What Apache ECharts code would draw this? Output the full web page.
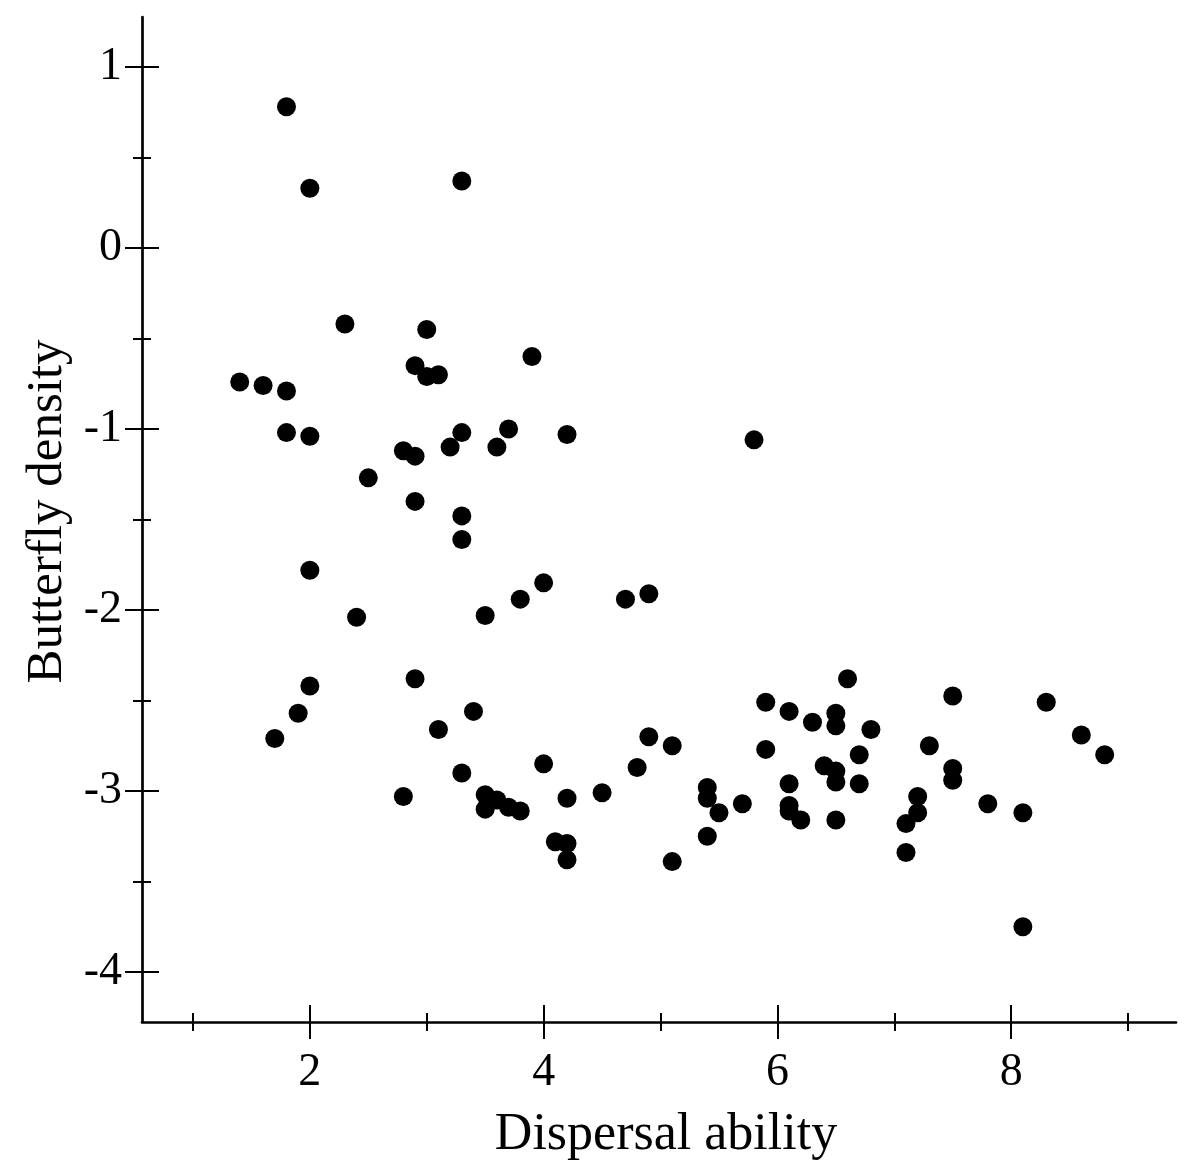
<!DOCTYPE html>
<html><head><meta charset="utf-8">
<script src="https://cdn.jsdelivr.net/npm/echarts@6/dist/echarts.min.js"></script>
<style>html,body{margin:0;padding:0;background:#fff}#c{width:1200px;height:1173px}</style>
</head><body><div id="c"></div>
<script>
const dispersal = [1.8,2.0,3.3,2.3,3.0,3.9,2.9,3.0,3.1,1.4,1.6,1.8,1.8,2.0,3.3,3.7,4.2,2.8,2.9,3.2,3.6,2.5,2.9,3.3,3.3,2.0,4.0,3.8,2.4,3.5,4.7,4.9,5.8,2.0,2.9,1.9,1.7,3.4,3.1,3.3,4.0,2.8,3.5,3.6,3.5,3.7,3.8,4.2,4.5,4.1,4.2,4.2,4.8,4.9,5.1,5.1,5.4,5.4,5.5,5.7,5.4,5.9,5.9,6.1,6.1,6.1,6.1,6.2,6.3,6.4,6.5,6.5,6.5,6.5,6.5,6.6,6.7,6.7,6.8,7.1,7.1,7.2,7.2,7.3,7.5,7.5,7.5,7.8,8.1,8.1,8.3,8.6,8.8];
const density = [0.78,0.33,0.37,-0.42,-0.45,-0.60,-0.65,-0.71,-0.70,-0.74,-0.76,-0.79,-1.02,-1.04,-1.02,-1.00,-1.03,-1.12,-1.15,-1.10,-1.10,-1.27,-1.40,-1.48,-1.61,-1.78,-1.85,-1.94,-2.04,-2.03,-1.94,-1.91,-1.06,-2.42,-2.38,-2.57,-2.71,-2.56,-2.66,-2.90,-2.85,-3.03,-3.02,-3.05,-3.10,-3.09,-3.11,-3.04,-3.01,-3.28,-3.29,-3.38,-2.87,-2.70,-2.75,-3.39,-2.98,-3.04,-3.12,-3.07,-3.25,-2.51,-2.77,-2.56,-2.96,-3.08,-3.11,-3.16,-2.62,-2.86,-2.57,-2.64,-2.89,-2.95,-3.16,-2.38,-2.80,-2.96,-2.66,-3.18,-3.34,-3.03,-3.12,-2.75,-2.475,-2.875,-2.94,-3.07,-3.12,-3.75,-2.51,-2.69,-2.80];
const xLabelTicks = [2,4,6,8];
const xMajorTicks = [2,4,6,8];
const xMinorTicks = [1,3,5,7,9];
const yLabelTicks = [-4,-3,-2,-1,0,1];
const yMajorTicks = [-4,-3,-2,-1,0,1];
const yMinorTicks = [-3.5,-2.5,-1.5,-0.5,0.5];
const xTitle = 'Dispersal ability';
const yTitle = 'Butterfly density';

const FONT = '"Liberation Serif","Times New Roman",serif';
const X_MIN = 0.564, X_MAX = 9.41, Y_MIN = -4.276, Y_MAX = 1.276;

function tickAxis(base, offset, len, values) {
  return Object.assign({}, base, {
    offset: offset,
    axisLine: {show: false, onZero: false},
    axisTick: {show: true, length: len, customValues: values, lineStyle: {color: '#000', width: 2}},
    axisLabel: {show: false},
    splitLine: {show: false}
  });
}
const xBase = {type: 'value', min: X_MIN, max: X_MAX, position: 'bottom'};
const yBase = {type: 'value', min: Y_MIN, max: Y_MAX, position: 'left'};

const chart = echarts.init(document.getElementById('c'), null, {renderer: 'canvas'});
chart.setOption({
  animation: false,
  backgroundColor: '#fff',
  grid: {left: 142, right: 24, top: 17, bottom: 151, containLabel: false},
  xAxis: [
    Object.assign({}, xBase, {
      axisLine: {show: true, onZero: false, lineStyle: {color: '#000', width: 2.7}},
      axisTick: {show: false},
      splitLine: {show: false},
      axisLabel: {customValues: xLabelTicks, fontSize: 46, fontFamily: FONT, color: '#000', margin: 28},
      name: xTitle, nameLocation: 'middle', nameGap: 87,
      nameTextStyle: {fontSize: 52, fontFamily: FONT, color: '#000', padding: [0, 0, 0, 14]}
    }),
    tickAxis(xBase, -17, 34, xMajorTicks),
    tickAxis(xBase, -9, 18, xMinorTicks)
  ],
  yAxis: [
    Object.assign({}, yBase, {
      axisLine: {show: true, onZero: false, lineStyle: {color: '#000', width: 2.7}},
      axisTick: {show: false},
      splitLine: {show: false},
      axisLabel: {customValues: yLabelTicks, fontSize: 46, fontFamily: FONT, color: '#000', margin: 20},
      name: yTitle, nameLocation: 'middle', nameGap: 62, nameRotate: 90,
      nameTextStyle: {fontSize: 51, fontFamily: FONT, color: '#000', padding: [0, 0, 0, 16]}
    }),
    tickAxis(yBase, -17, 34, yMajorTicks),
    tickAxis(yBase, -9, 18, yMinorTicks)
  ],
  series: [{
    type: 'scatter',
    xAxisIndex: 0, yAxisIndex: 0,
    symbol: 'circle', symbolSize: 19,
    itemStyle: {color: '#000', opacity: 1},
    data: dispersal.map((x, i) => [x, density[i]])
  }]
});
</script></body></html>
